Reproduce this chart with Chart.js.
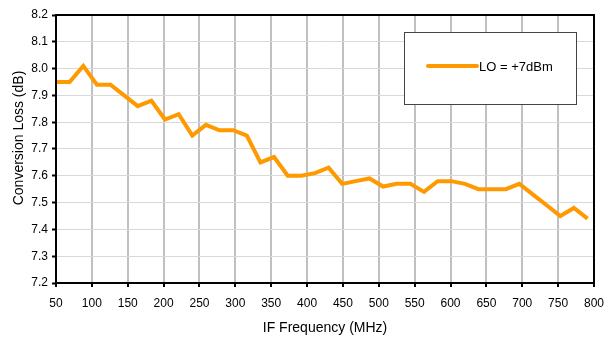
<!DOCTYPE html>
<html>
<head>
<meta charset="utf-8">
<script src="https://cdn.jsdelivr.net/npm/chart.js@4"></script>
<style>
  html, body { margin: 0; padding: 0; background: #fff; }
  #wrap { width: 615px; height: 341px; }
</style>
</head>
<body>
<div id="wrap"><canvas id="grafico" width="615" height="341"></canvas></div>
<script>
// datos
const frecuencias = [50, 69, 88, 107, 126, 145, 164, 183, 202, 221,
                     240, 259, 278, 297, 316, 335, 354, 373, 392, 411,
                     430, 449, 468, 487, 506, 525, 544, 563, 582, 601,
                     620, 639, 658, 677, 696, 715, 734, 753, 772, 791];
const perdida = [7.95, 7.95, 8.01, 7.94, 7.94, 7.90, 7.86, 7.88, 7.81, 7.83,
                 7.75, 7.79, 7.77, 7.77, 7.75, 7.65, 7.67, 7.60, 7.60, 7.61,
                 7.63, 7.57, 7.58, 7.59, 7.56, 7.57, 7.57, 7.54, 7.58, 7.58,
                 7.57, 7.55, 7.55, 7.55, 7.57, 7.53, 7.49, 7.45, 7.48, 7.44];
const ticksX = [50, 100, 150, 200, 250, 300, 350, 400, 450, 500, 550, 600, 650, 700, 750, 800];
const ticksY = [7.2, 7.3, 7.4, 7.5, 7.6, 7.7, 7.8, 7.9, 8.0, 8.1, 8.2];
const nombreSerie = 'LO = +7dBm';

const fuente = 'Liberation Sans, Arial, sans-serif';
const naranja = '#ff9900';

const puntos = frecuencias.map((f, i) => ({ x: f, y: perdida[i] }));

// marco, titulo del eje y y leyenda dibujados a mano
const extras = {
    id: 'extras',
    afterDatasetsDraw(chart) {
        const ctx = chart.ctx;
        const a = chart.chartArea;
        ctx.save();
        ctx.strokeStyle = '#000';
        ctx.lineWidth = 2;
        ctx.strokeRect(a.left, a.top, a.right - a.left, a.bottom - a.top);

        // leyenda
        ctx.fillStyle = '#fff';
        ctx.fillRect(404.5, 32.5, 172, 72);
        ctx.strokeStyle = '#444';
        ctx.lineWidth = 1;
        ctx.strokeRect(404.5, 32.5, 172, 72);
        ctx.strokeStyle = naranja;
        ctx.lineWidth = 4;
        ctx.lineCap = 'round';
        ctx.beginPath();
        ctx.moveTo(428, 66);
        ctx.lineTo(477, 66);
        ctx.stroke();
        ctx.fillStyle = '#000';
        ctx.font = '13px ' + fuente;
        ctx.textBaseline = 'middle';
        ctx.fillText(nombreSerie, 479, 67);

        // titulo eje y
        ctx.translate(19, 138);
        ctx.rotate(-Math.PI / 2);
        ctx.textAlign = 'center';
        ctx.font = '14px ' + fuente;
        ctx.fillText('Conversion Loss (dB)', 0, 0);
        ctx.restore();
    }
};

new Chart(document.getElementById('grafico').getContext('2d'), {
    type: 'line',
    data: {
        datasets: [{
            label: nombreSerie,
            data: puntos,
            borderColor: naranja,
            borderWidth: 4,
            pointRadius: 0,
            tension: 0,
            fill: false,
            borderJoinStyle: 'miter'
        }]
    },
    options: {
        responsive: false,
        animation: false,
        devicePixelRatio: 1,
        layout: { padding: { top: 15, right: 21, left: 0, bottom: 0 } },
        plugins: {
            legend: { display: false },
            tooltip: { enabled: false }
        },
        scales: {
            x: {
                type: 'linear',
                min: 50,
                max: 800,
                afterBuildTicks: s => { s.ticks = ticksX.map(v => ({ value: v })); },
                afterFit: s => { s.height = 58; },
                grid: {
                    color: '#c0c0c0',
                    lineWidth: 2,
                    drawTicks: true,
                    tickLength: 4,
                    tickColor: '#000',
                    tickWidth: 2
                },
                border: { color: '#000', width: 2 },
                ticks: {
                    color: '#000',
                    font: { family: fuente, size: 12 },
                    maxRotation: 0,
                    padding: 9
                },
                title: {
                    display: true,
                    text: 'IF Frequency (MHz)',
                    color: '#000',
                    font: { family: fuente, size: 14 },
                    padding: { top: 8 }
                }
            },
            y: {
                min: 7.2,
                max: 8.2,
                afterBuildTicks: s => { s.ticks = ticksY.map(v => ({ value: v })); },
                afterFit: s => { s.width = 56; },
                grid: {
                    color: '#d9d9d9',
                    lineWidth: 1,
                    drawTicks: true,
                    tickLength: 4,
                    tickColor: '#000',
                    tickWidth: 2
                },
                border: { color: '#000', width: 2 },
                ticks: {
                    color: '#000',
                    font: { family: fuente, size: 12 },
                    padding: 4,
                    callback: v => v.toFixed(1)
                }
            }
        }
    },
    plugins: [extras]
});
</script>
</body>
</html>
